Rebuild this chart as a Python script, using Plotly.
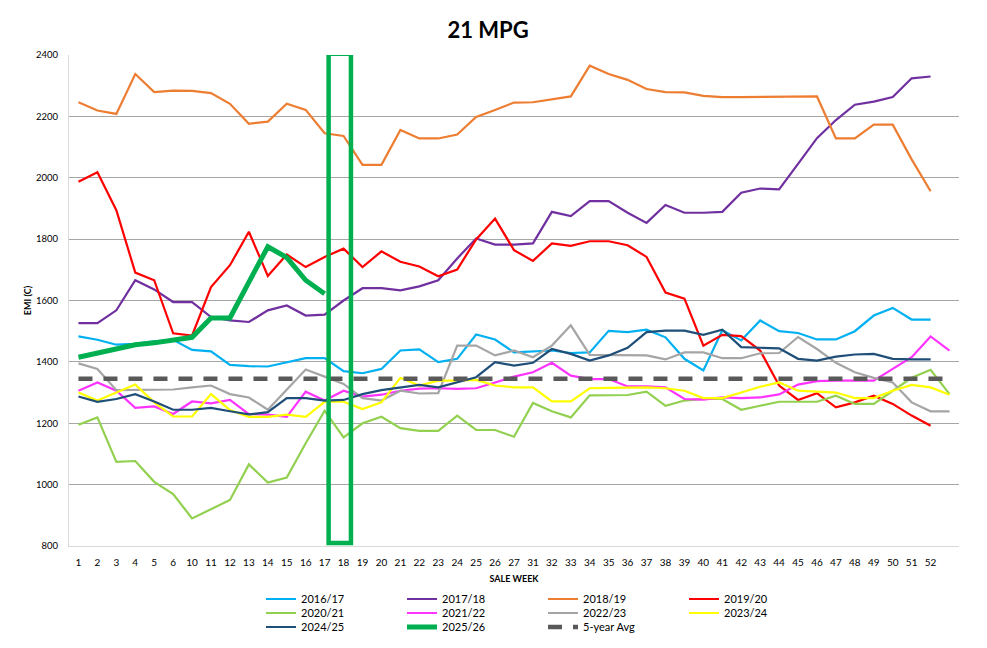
import plotly.graph_objects as go

weeks = ["1", "2", "3", "4", "5", "6",
         "10", "11", "12", "13", "14", "15", "16", "17", "18", "19", "20", "21", "22", "23", "24", "25", "26", "27",
         "31", "32", "33", "34", "35", "36", "37", "38", "39", "40", "41", "42", "43", "44", "45", "46", "47", "48",
         "49", "50", "51", "52", " "]

s2016_17 = [1483, 1472, 1456, 1459, 1467, 1472, 1439, 1434, 1390, 1386, 1385, 1399, 1412, 1412, 1370, 1363,
            1377, 1437, 1441, 1399, 1410, 1489, 1473, 1431, 1434, 1437, 1429, 1431, 1501, 1497, 1505, 1480,
            1410, 1372, 1503, 1470, 1535, 1500, 1494, 1473, 1473, 1500, 1551, 1576, 1538, 1538, None]
s2017_18 = [1526, 1526, 1568, 1666, 1636, 1595, 1595, 1546, 1535, 1530, 1568, 1584, 1551, 1554, 1600, 1640,
            1640, 1633, 1646, 1666, 1737, 1802, 1782, 1782, 1786, 1889, 1875, 1924, 1924, 1886, 1853, 1911,
            1886, 1886, 1889, 1951, 1965, 1962, 2045, 2129, 2188, 2238, 2248, 2263, 2324, 2330, None]
s2018_19 = [2246, 2219, 2208, 2338, 2279, 2284, 2283, 2276, 2241, 2176, 2183, 2241, 2221, 2145, 2136, 2042,
            2042, 2156, 2128, 2128, 2141, 2198, 2221, 2245, 2246, 2256, 2265, 2365, 2338, 2319, 2289, 2279,
            2278, 2267, 2263, 2263, 2263, 2265, 2265, 2265, 2128, 2128, 2173, 2173, 2060, 1956, None]
s2019_20 = [1987, 2018, 1894, 1691, 1666, 1493, 1486, 1644, 1715, 1824, 1680, 1750, 1709, 1742, 1769, 1709,
            1760, 1726, 1711, 1679, 1701, 1799, 1867, 1764, 1729, 1786, 1778, 1793, 1793, 1780, 1742, 1626,
            1606, 1453, 1488, 1484, 1437, 1323, 1276, 1298, 1252, 1268, 1290, 1263, 1225, 1192, None]
s2020_21 = [1195, 1219, 1074, 1077, 1009, 969, 890, 920, 950, 1066, 1007, 1023, 1135, 1241, 1154, 1200,
            1221, 1184, 1175, 1175, 1225, 1178, 1178, 1156, 1266, 1239, 1219, 1291, 1292, 1292, 1303, 1257,
            1274, 1279, 1279, 1244, 1257, 1270, 1270, 1270, 1290, 1263, 1263, 1306, 1348, 1374, 1295]
s2021_22 = [1306, 1333, 1306, 1250, 1255, 1230, 1271, 1265, 1276, 1230, 1228, 1221, 1303, 1274, 1306, 1287,
            1293, 1306, 1313, 1314, 1312, 1314, 1333, 1352, 1366, 1397, 1355, 1344, 1344, 1320, 1320, 1317,
            1279, 1277, 1284, 1282, 1284, 1294, 1326, 1337, 1339, 1339, 1339, 1377, 1415, 1483, 1437]
s2022_23 = [1395, 1377, 1308, 1308, 1308, 1310, 1317, 1323, 1295, 1284, 1244, 1311, 1375, 1352, 1328, 1282,
            1274, 1306, 1297, 1298, 1453, 1453, 1421, 1437, 1415, 1453, 1519, 1423, 1423, 1423, 1421, 1408,
            1431, 1431, 1412, 1412, 1428, 1429, 1481, 1442, 1397, 1366, 1348, 1333, 1268, 1239, 1239]
s2023_24 = [1300, 1274, 1300, 1326, 1268, 1222, 1222, 1295, 1243, 1221, 1221, 1228, 1221, 1270, 1270, 1246,
            1268, 1348, 1323, 1339, 1339, 1341, 1323, 1317, 1317, 1271, 1271, 1314, 1315, 1317, 1317, 1314,
            1306, 1282, 1282, 1300, 1319, 1333, 1306, 1303, 1300, 1282, 1282, 1306, 1325, 1317, 1293]
s2024_25 = [1287, 1270, 1279, 1295, 1271, 1244, 1244, 1250, 1239, 1229, 1236, 1282, 1282, 1274, 1276, 1295,
            1308, 1317, 1325, 1317, 1333, 1350, 1399, 1388, 1397, 1442, 1426, 1404, 1421, 1446, 1497, 1502,
            1502, 1488, 1505, 1448, 1446, 1444, 1410, 1404, 1417, 1424, 1426, 1410, 1408, 1408, None]
s2025_26 = [1415, 1428, 1442, 1456, 1462, 1470, 1480, 1543, 1543, 1660, 1775, 1740, 1666, 1622]
avg5 = [1345, 1345, 1345, 1345, 1345, 1345, 1345, 1345, 1345, 1345, 1345, 1345, 1345, 1345, 1345, 1345,
        1345, 1345, 1345, 1345, 1345, 1345, 1345, 1345, 1345, 1345, 1345, 1345, 1345, 1345, 1345, 1345,
        1345, 1345, 1345, 1345, 1345, 1345, 1345, 1345, 1345, 1345, 1345, 1345, 1345, 1345, 1345]

series = [
    ("2016/17", s2016_17, "#00B0F0", 2.2, "solid", "legend"),
    ("2017/18", s2017_18, "#7030A0", 2.2, "solid", "legend"),
    ("2018/19", s2018_19, "#ED7D31", 2.2, "solid", "legend"),
    ("2019/20", s2019_20, "#FF0000", 2.2, "solid", "legend"),
    ("2020/21", s2020_21, "#92D050", 2.2, "solid", "legend2"),
    ("2021/22", s2021_22, "#FF33FF", 2.2, "solid", "legend2"),
    ("2022/23", s2022_23, "#A5A5A5", 2.2, "solid", "legend2"),
    ("2023/24", s2023_24, "#FFFF00", 2.2, "solid", "legend2"),
    ("2024/25", s2024_25, "#1F4E79", 2.2, "solid", "legend3"),
    ("2025/26", s2025_26, "#00B050", 5.0, "solid", "legend3"),
    ("5-year Avg", avg5, "#595959", 4.6, "14px,11px", "legend3"),
]

FONT = "Lato, 'Open Sans', sans-serif"
W, H = 979, 640   # page adds an 8px body margin
OFF = 8


def cx(px):
    return (px - OFF) / W


def cy(py):
    return 1 - (py - OFF) / H


fig = go.Figure()
for name, vals, color, width, dash, leg in series:
    fig.add_trace(go.Scatter(
        x=weeks[:len(vals)], y=vals, name=name, mode="lines",
        line=dict(color=color, width=width, dash=dash),
        legend=leg, connectgaps=False,
    ))

# highlight box around the current sale week
fig.add_shape(type="rect", xref="x", yref="y", x0=13.21, x1=14.39, y0=810, y1=2404,
              line=dict(color="#00B050", width=4.5), fillcolor="rgba(0,0,0,0)", layer="above")

legend_common = dict(
    orientation="h", xref="container", yref="container", xanchor="left", yanchor="middle",
    x=cx(261), entrywidth=96, entrywidthmode="pixels", bgcolor="rgba(0,0,0,0)",
    font=dict(family=FONT, size=11, color="#000000"), borderwidth=0,
    itemclick=False, itemdoubleclick=False,
)

fig.update_layout(
    width=W, height=H,
    margin=dict(l=61, r=28, t=47, b=102),
    paper_bgcolor="white", plot_bgcolor="white",
    font=dict(family=FONT, size=10, color="#000000"),
    title=dict(text="<b>21 MPG</b>", x=cx(488), xanchor="center", xref="container",
               y=cy(30), yref="container", yanchor="middle",
               font=dict(family=FONT, size=22, color="#000000")),
    showlegend=True,
    legend=dict(legend_common, y=cy(599)),
    legend2=dict(legend_common, y=cy(613)),
    legend3=dict(legend_common, y=cy(627)),
    xaxis=dict(
        type="category", categoryorder="array", categoryarray=weeks,
        tickmode="array", tickvals=weeks, ticktext=weeks,
        range=[-0.5, len(weeks) - 0.5], automargin=False,
        showgrid=False, showline=True, linecolor="#D9D9D9", linewidth=1,
        ticks="", ticklabelstandoff=7, tickfont=dict(family=FONT, size=10, color="#000000"),
        title=dict(text="<b>SALE WEEK</b>", font=dict(family=FONT, size=9, color="#000000"), standoff=9),
        zeroline=False, fixedrange=True,
    ),
    yaxis=dict(
        range=[800, 2400], dtick=200, tick0=800, automargin=False,
        showgrid=True, gridcolor="#A6A6A6", gridwidth=1,
        showline=True, linecolor="#D9D9D9", linewidth=1,
        ticks="", ticklabelstandoff=8, tickfont=dict(family=FONT, size=9.5, color="#000000"),
        title=dict(text="<b>EMI (C)</b>", font=dict(family=FONT, size=9, color="#000000"), standoff=2),
        zeroline=False, fixedrange=True,
    ),
)

fig.write_html("out.html")
